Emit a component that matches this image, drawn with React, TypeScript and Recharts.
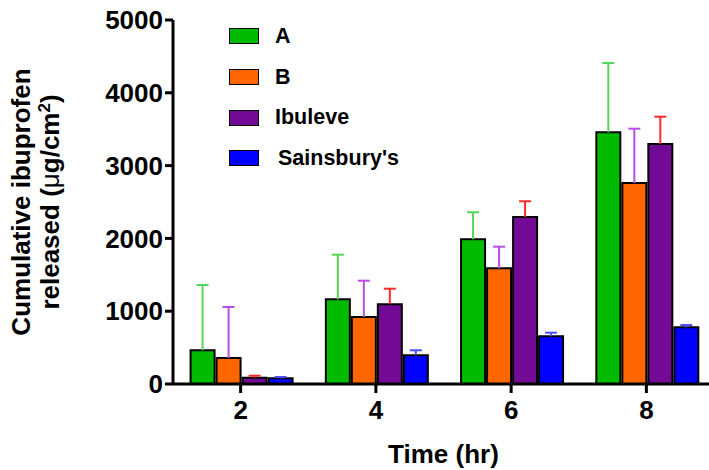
import { BarChart, Bar, XAxis, YAxis, ErrorBar, Legend, Label } from "recharts"

const times = ["2", "4", "6", "8"]
const valuesA = [463, 1163, 1988, 3457]
const errorsA = [897, 613, 371, 952]
const valuesB = [357, 920, 1589, 2761]
const errorsB = [701, 499, 297, 746]
const valuesIbuleve = [87, 1094, 2294, 3297]
const errorsIbuleve = [27, 215, 216, 375]
const valuesSainsburys = [78, 394, 655, 779]
const errorsSainsburys = [18, 69, 50, 31]
const yTicks = [0, 1000, 2000, 3000, 4000, 5000]

const data = times.map((t, i) => ({
  time: t,
  A: valuesA[i],
  aErr: errorsA[i],
  B: valuesB[i],
  bErr: errorsB[i],
  Ibuleve: valuesIbuleve[i],
  iErr: errorsIbuleve[i],
  Sainsburys: valuesSainsburys[i],
  sErr: errorsSainsburys[i],
}))

const SERIES = [
  { key: "A", name: "A", fill: "#00bb00", err: "aErr", errColor: "#55d655" },
  { key: "B", name: "B", fill: "#ff6600", err: "bErr", errColor: "#b94ee6" },
  { key: "Ibuleve", name: "Ibuleve", fill: "#720a96", err: "iErr", errColor: "#ff2a2a" },
  { key: "Sainsburys", name: "Sainsbury's", fill: "#0000ff", err: "sErr", errColor: "#4d4dff" },
]

const FONT = "'Liberation Sans', Arial, sans-serif"

function renderLegend() {
  return (
    <div style={{ fontFamily: FONT, fontWeight: "bold", fontSize: 21.5, color: "#000" }}>
      {SERIES.map((s, i) => (
        <div key={s.key} style={{ display: "flex", alignItems: "center", height: 40.7 }}>
          <div
            style={{
              width: 28,
              height: 14,
              backgroundColor: s.fill,
              border: "1.5px solid #000",
              marginRight: i === 3 ? 19 : 16,
            }}
          ></div>
          <span>{s.name}</span>
        </div>
      ))}
    </div>
  )
}

function YLabel(props: any) {
  const vb = props.viewBox || { x: 0, y: 20, width: 173, height: 364 }
  const cy = vb.y + vb.height / 2
  return (
    <g fontFamily={FONT} fontWeight="bold" fontSize={26} fill="#000">
      <text x={30} y={cy} transform={`rotate(-90, 30, ${cy})`} textAnchor="middle">
        Cumulative ibuprofen
      </text>
      <text x={59} y={cy} transform={`rotate(-90, 59, ${cy})`} textAnchor="middle">
        released (<tspan fontWeight="normal">μ</tspan>g/cm
        <tspan baselineShift="super" fontSize={17}>2</tspan>)
      </text>
    </g>
  )
}

function XLabel(props: any) {
  const vb = props.viewBox || { x: 174, y: 384, width: 540, height: 86 }
  return (
    <text
      x={vb.x + vb.width / 2}
      y={463}
      textAnchor="middle"
      fontFamily={FONT}
      fontWeight="bold"
      fontSize={26}
      fill="#000"
    >
      Time (hr)
    </text>
  )
}

export default function App() {
  return (
    <div style={{ position: "absolute", left: 0, top: 0, width: 709, height: 470, overflow: "hidden", background: "#fff" }}>
      <style>{`.recharts-errorBar line:nth-of-type(3){display:none}`}</style>
      <BarChart
        width={720}
        height={470}
        data={data}
        margin={{ top: 20, right: 6, bottom: 0, left: 0 }}
        barGap={2}
        barCategoryGap="13%"
      >
        <XAxis
          dataKey="time"
          height={86}
          axisLine={{ stroke: "#000", strokeWidth: 3 }}
          tickLine={{ stroke: "#000", strokeWidth: 3 }}
          tickSize={9}
          tickMargin={8}
          tick={{ fill: "#000", fontFamily: FONT, fontWeight: "bold", fontSize: 26 }}
        >
          <Label content={<XLabel />} />
        </XAxis>
        <YAxis
          width={173}
          domain={[0, 5000]}
          ticks={yTicks}
          interval={0}
          axisLine={{ stroke: "#000", strokeWidth: 3 }}
          tickLine={{ stroke: "#000", strokeWidth: 3 }}
          tickSize={8}
          tickMargin={2}
          tick={{ fill: "#000", fontFamily: FONT, fontWeight: "bold", fontSize: 26 }}
        >
          <Label content={<YLabel />} />
        </YAxis>
        <Legend
          content={renderLegend}
          layout="vertical"
          verticalAlign="middle"
          align="center"
          wrapperStyle={{ top: 16, left: 229, width: 220 }}
        />
        {SERIES.map((s) => (
          <Bar
            key={s.key}
            dataKey={s.key}
            name={s.name}
            fill={s.fill}
            stroke="#000"
            strokeWidth={2}
            isAnimationActive={false}
          >
            <ErrorBar
              dataKey={(d: any) => [0, d[s.err]]}
              width={6}
              stroke={s.errColor}
              strokeWidth={2}
              direction="y"
              isAnimationActive={false}
            />
          </Bar>
        ))}
      </BarChart>
    </div>
  )
}
